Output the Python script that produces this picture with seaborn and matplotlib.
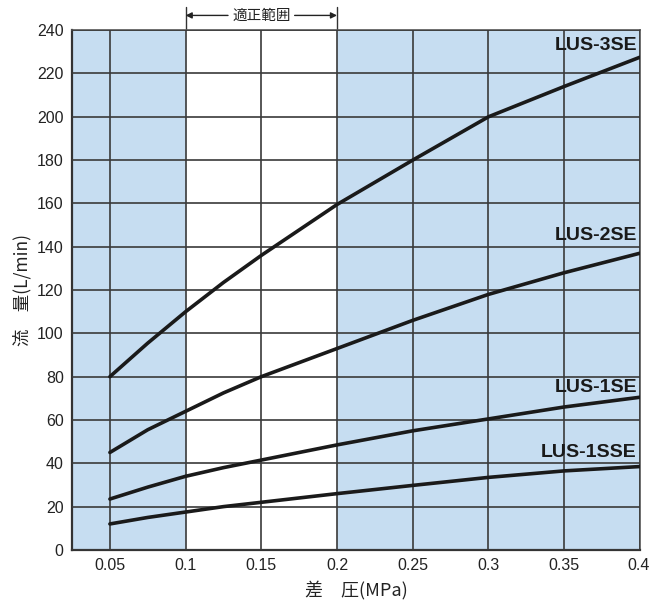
import numpy as np
import pandas as pd
import matplotlib
matplotlib.use("Agg")
import matplotlib.pyplot as plt
import seaborn as sns

# values
pressure = [0.05, 0.075, 0.1, 0.125, 0.15, 0.2, 0.25, 0.3, 0.35, 0.4]
lus_3se = [80, 95.5, 110, 123.5, 136, 159.5, 180, 200, 214, 227.5]
lus_2se = [45, 55.5, 64, 72.5, 80, 93, 106, 118, 128, 137]
lus_1se = [23.5, 29, 34, 38, 41.5, 48.5, 55, 60.5, 66, 70.5]
lus_1sse = [12, 15, 17.5, 20, 22, 26, 29.8, 33.5, 36.5, 38.5]
series_names = ["LUS-3SE", "LUS-2SE", "LUS-1SE", "LUS-1SSE"]
label_y = [233, 145, 75, 45]

xticks = [0.05, 0.1, 0.15, 0.2, 0.25, 0.3, 0.35, 0.4]
xtick_labels = ["0.05", "0.1", "0.15", "0.2", "0.25", "0.3", "0.35", "0.4"]
yticks = list(range(0, 241, 20))

df = pd.DataFrame({
    "pressure": pressure * 4,
    "flow": lus_3se + lus_2se + lus_1se + lus_1sse,
    "model": [n for n in series_names for _ in pressure],
})

sns.set_style("white")
plt.rcParams['font.family'] = ['Noto Sans CJK JP', 'DejaVu Sans']

blue = "#c6ddf1"
fig = plt.figure(figsize=(6.49, 6.03), dpi=100)
ax = fig.add_axes([0.111, 0.088, 0.875, 0.862])

# shaded regions (white "proper range" between 0.1 and 0.2)
ax.axvspan(0.025, 0.1, color=blue, lw=0, zorder=0)
ax.axvspan(0.2, 0.4, color=blue, lw=0, zorder=0)

sns.lineplot(data=df, x="pressure", y="flow", hue="model",
             palette=["#1a1a1a"] * 4, linewidth=2.6, legend=False,
             ax=ax, zorder=3)

ax.set_xlim(0.025, 0.4)
ax.set_ylim(0, 240)
ax.set_xticks(xticks)
# last label drawn separately so it stays inside the figure
ax.set_xticklabels(xtick_labels[:-1] + [""])
ax.set_yticks(yticks)
ax.tick_params(length=0, labelsize=11.5, colors="#222222", pad=6)
for lab in ax.get_xticklabels() + ax.get_yticklabels():
    lab.set_family("Liberation Sans")
ax.annotate(xtick_labels[-1], xy=(xticks[-1], 0),
            xycoords=("data", "axes fraction"), xytext=(7, -6),
            textcoords="offset points", ha="right", va="top",
            fontsize=11.5, family="Liberation Sans", color="#222222",
            annotation_clip=False)
ax.grid(True, color="#3a3a3a", linewidth=1.2, zorder=1)
ax.set_axisbelow(False)
for s in ax.spines.values():
    s.set_color("#555555")
    s.set_linewidth(1.2)
ax.spines["left"].set_color("#333333")
ax.spines["bottom"].set_color("#333333")
ax.spines["left"].set_linewidth(1.6)
ax.spines["bottom"].set_linewidth(1.6)

for name, yv in zip(series_names, label_y):
    ax.text(0.398, yv, name, ha="right", va="center", fontsize=14,
            fontweight="bold", family="Liberation Sans",
            color="#1a1a1a", zorder=4)

# "proper range" bracket above the plot
ax.plot([0.1, 0.1], [240, 250.5], color="#333333", lw=1, clip_on=False)
ax.plot([0.2, 0.2], [240, 250.5], color="#333333", lw=1, clip_on=False)
ax.text(0.15, 246.8, "適正範囲", ha="center", va="center", fontsize=10.5,
        color="#222222")
ax.annotate("", xy=(0.1, 246.8), xytext=(0.128, 246.8),
            arrowprops=dict(arrowstyle="-|>", color="#222222", lw=1,
                            mutation_scale=9, shrinkA=0, shrinkB=0),
            annotation_clip=False)
ax.annotate("", xy=(0.2, 246.8), xytext=(0.172, 246.8),
            arrowprops=dict(arrowstyle="-|>", color="#222222", lw=1,
                            mutation_scale=9, shrinkA=0, shrinkB=0),
            annotation_clip=False)

ax.set_xlabel("差　圧(MPa)", fontsize=13, color="#222222", labelpad=5)
ax.set_ylabel("流　量(L/min)", fontsize=12.5, color="#222222", labelpad=4)

fig.savefig("out.png", dpi=100)
